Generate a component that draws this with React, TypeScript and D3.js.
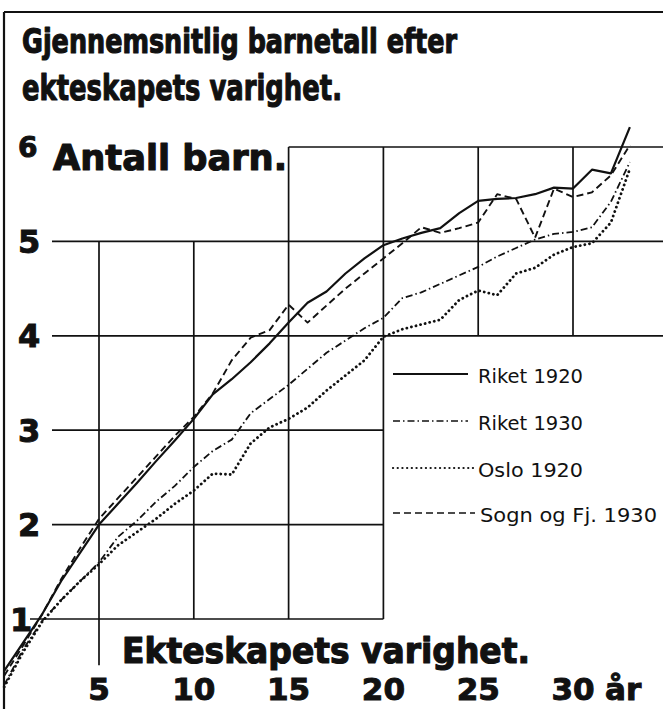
import React from 'react';
import * as d3 from 'd3';

// Ekteskapets varighet (år)
const years = [0, 1, 2, 3, 4, 5, 6, 7, 8, 9, 10, 11, 12, 13, 14, 15, 16, 17, 18, 19, 20, 21, 22, 23, 24, 25, 26, 27, 28, 29, 30, 31, 32, 33];

// Gjennemsnitlig antall barn
const riket1920 = [0.45, 0.75, 1.05, 1.4, 1.7, 2.0, 2.22, 2.44, 2.67, 2.89, 3.12, 3.38, 3.54, 3.72, 3.92, 4.14, 4.35, 4.47, 4.66, 4.82, 4.96, 5.03, 5.09, 5.14, 5.3, 5.43, 5.45, 5.46, 5.5, 5.57, 5.56, 5.76, 5.72, 6.21];
const riket1930 = [0.3, 0.68, 0.98, 1.2, 1.4, 1.6, 1.87, 2.04, 2.24, 2.41, 2.61, 2.78, 2.9, 3.18, 3.33, 3.48, 3.65, 3.82, 3.95, 4.08, 4.19, 4.4, 4.46, 4.55, 4.64, 4.73, 4.84, 4.93, 5.02, 5.08, 5.1, 5.15, 5.42, 5.84];
const oslo1920 = [0.28, 0.65, 0.97, 1.2, 1.4, 1.58, 1.78, 1.92, 2.06, 2.22, 2.36, 2.54, 2.53, 2.86, 3.03, 3.12, 3.24, 3.42, 3.58, 3.74, 3.99, 4.07, 4.12, 4.17, 4.38, 4.48, 4.43, 4.66, 4.72, 4.86, 4.94, 4.98, 5.2, 5.77];
const sogn1930 = [0.4, 0.72, 1.05, 1.42, 1.75, 2.06, 2.28, 2.5, 2.72, 2.94, 3.14, 3.39, 3.74, 3.98, 4.06, 4.33, 4.14, 4.32, 4.5, 4.66, 4.82, 4.98, 5.15, 5.09, 5.14, 5.2, 5.5, 5.45, 5.04, 5.56, 5.47, 5.52, 5.7, 6.02];

const seriesNames = ['Riket 1920', 'Riket 1930', 'Oslo 1920', 'Sogn og Fj. 1930'];

const yTicks = [1, 2, 3, 4, 5, 6];
const xTicks = [5, 10, 15, 20, 25, 30];

const W = 663;
const H = 709;

const boldFont = '"DejaVu Sans", Verdana, sans-serif';

const App = () => {
    const x = d3.scaleLinear().domain([0, 30]).range([4.2, 573]);
    const y = d3.scaleLinear().domain([0, 6]).range([713.4, 147]);

    const line = d3.line<number>()
        .x((d, i) => x(years[i]))
        .y(d => y(d))
        .curve(d3.curveLinear);

    // line styles for each series
    const styles = [
        { data: riket1920, dash: null, width: 2.2, cap: 'butt' },
        { data: riket1930, dash: '7 3 1.5 3', width: 1.8, cap: 'butt' },
        { data: oslo1920, dash: '0.1 4.6', width: 2.8, cap: 'round' },
        { data: sogn1930, dash: '7 4', width: 1.9, cap: 'butt' },
    ];

    // grid: horizontals [value, x0 px, x1 px], verticals [year, from value, to value]
    const hLines = [
        [6, x(15), W],
        [5, 52, W],
        [4, 52, W],
        [3, 52, x(20)],
        [2, 52, x(20)],
        [1, 30, x(20)],
    ];
    const vLines = [
        [5, 5, 0.51],
        [10, 5, 1],
        [15, 6, 1],
        [20, 6, 1],
        [25, 6, 4],
        [30, 6, 4],
    ];

    const legendY = [374, 421, 468, 513];

    return (
        <svg width={W} height={H} style={{ position: 'absolute', left: 0, top: 0, background: '#fff' }}>
            {/* frame */}
            <line x1={4} y1={12} x2={W} y2={12} stroke="#111" strokeWidth={2} />
            <line x1={4} y1={12} x2={4} y2={H} stroke="#111" strokeWidth={2.2} />

            {/* title */}
            <g fontFamily={boldFont} fontWeight={700} fill="#111" stroke="#111" strokeWidth={1.2} strokeLinejoin="round">
                <text x={22} y={53} fontSize={33} textLength={435} lengthAdjust="spacingAndGlyphs">Gjennemsnitlig barnetall efter</text>
                <text x={22} y={100} fontSize={35} textLength={320} lengthAdjust="spacingAndGlyphs">ekteskapets varighet.</text>
                <text x={53} y={170} fontSize={36} textLength={234} lengthAdjust="spacingAndGlyphs">Antall barn.</text>
                <text x={122} y={663} fontSize={35} textLength={408} lengthAdjust="spacingAndGlyphs">Ekteskapets varighet.</text>
            </g>

            {/* grid */}
            <g stroke="#111" strokeWidth={1.7}>
                {hLines.map(([v, a, b]) => (
                    <line key={'h' + v} x1={a} x2={b} y1={y(v)} y2={y(v)} />
                ))}
                {vLines.map(([t, a, b]) => (
                    <line key={'v' + t} x1={x(t)} x2={x(t)} y1={y(a)} y2={y(b)} />
                ))}
            </g>

            {/* y tick labels */}
            <g fontFamily={boldFont} fontWeight={700} fill="#111" stroke="#111" strokeWidth={1} fontSize={32}>
                {yTicks.map(v => (
                    <text key={v} x={v === 1 ? 10 : 18} y={y(v)} dy="0.36em" fontSize={v === 6 ? 28 : 32}>{v}</text>
                ))}
            </g>

            {/* x tick labels */}
            <g fontFamily={boldFont} fontWeight={700} fill="#111" stroke="#111" strokeWidth={1} fontSize={31} textAnchor="middle">
                {xTicks.map(t => (
                    <text key={t} x={x(t)} y={700}>{t}</text>
                ))}
                <text x={x(30) + 32} y={700} textAnchor="start">år</text>
            </g>

            {/* series */}
            <g fill="none" stroke="#111" strokeLinejoin="round">
                {styles.map((s, i) => (
                    <path key={i} d={line(s.data) || ''} strokeWidth={s.width}
                        strokeDasharray={s.dash || undefined} strokeLinecap={s.cap as any} />
                ))}
            </g>

            {/* legend */}
            <g>
                {seriesNames.map((name, i) => (
                    <g key={name}>
                        <line x1={393} x2={i < 2 ? 468 : 475} y1={legendY[i]} y2={legendY[i]}
                            stroke="#111" strokeWidth={styles[i].width * 0.8}
                            strokeDasharray={styles[i].dash || undefined}
                            strokeLinecap={styles[i].cap as any} />
                        <text x={i === 3 ? 480 : 478} y={legendY[i] + 9} fontFamily='"DejaVu Sans", sans-serif'
                            fontSize={20} fill="#111"
                            textLength={i === 3 ? 177 : 105} lengthAdjust="spacingAndGlyphs">{name}</text>
                    </g>
                ))}
            </g>
        </svg>
    );
};

export default App;
